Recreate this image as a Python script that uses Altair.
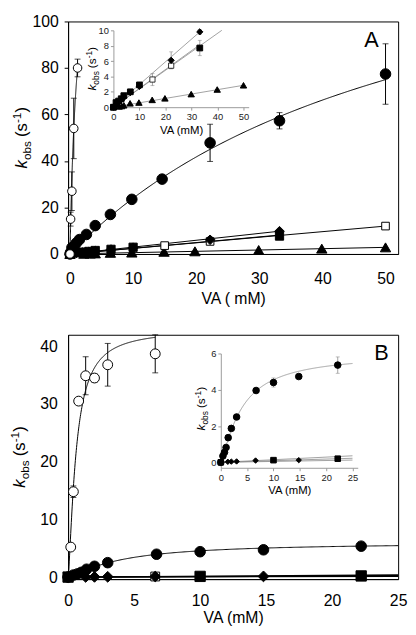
import altair as alt
import numpy as np
import pandas as pd

FONT = "Liberation Sans"

# ---------------- Panel A data (VA in mM, kobs in s^-1) ----------------
A_oc_va = [0, 0.1, 0.3, 0.6, 1.2]
A_oc_k = [0, 15, 27, 54, 80]
A_oc_err = [0, 3, 8.3, 13, 3.8]

A_fc_va = [0, 0.3, 0.6, 1.0, 1.5, 2.6, 4.0, 6.4, 9.8, 14.6, 22.2, 33.2, 50]
A_fc_k = [0, 2.7, 3.2, 4.7, 6.2, 8.4, 12.2, 17.0, 23.5, 32.2, 47.8, 57.3, 77.4]
A_fc_err = [0, 0, 0, 0, 0, 0, 0, 0.5, 0.8, 1.5, 8, 3.5, 13]

A_di_va = [0, 1, 2, 3, 4, 6.5, 10, 22.2, 33.2]
A_di_k = [0, 0.35, 0.65, 0.95, 1.25, 1.9, 2.7, 6.1, 9.8]
A_di_err = [0, 0, 0, 0, 0, 0, 0, 1.1, 0.3]

A_fs_va = [0, 1, 2, 3, 4, 6.5, 10, 33.2]
A_fs_k = [0, 0.6, 0.8, 1.1, 1.5, 2.0, 2.9, 7.7]
A_fs_err = [0, 0, 0, 0, 0, 0, 0.2, 1.0]

A_os_va = [0, 15, 22.2, 50]
A_os_k = [0, 3.6, 5.4, 12.0]
A_os_err = [0, 0.8, 0.4, 0.3]

A_tr_va = [0, 2.2, 3.2, 4.0, 6.4, 9.8, 14.9, 19.8, 29.9, 39.9, 50]
A_tr_k = [0, 0.1, 0.15, 0.25, 0.5, 0.6, 0.95, 1.15, 1.7, 2.3, 2.85]

# fitted curves: hyperbolic/Hill (kmax, K, n, x_end) and linear (slope, x_end)
A_fit_oc = (154, 1.11, 1.0, 1.2)
A_fit_fc = (160, 56.7, 1.0, 50)
A_fit_di = (0.295, 33.2)
A_fit_fs = (0.245, 33.2)
A_fit_os = (0.24, 50)
A_fit_tr = (0.057, 50)

# ---------------- Panel B data ----------------
B_oc_va = [0.2, 0.4, 0.8, 1.33, 2.0, 3.0, 6.6]
B_oc_k = [5.2, 14.8, 30.5, 34.9, 34.5, 36.8, 38.7]
B_oc_err = [0, 1.0, 0, 3.3, 0.7, 3.7, 3.3]

B_fc_va = [0, 0.4, 0.7, 1.0, 1.4, 2.0, 3.0, 6.7, 10, 14.8, 22.2]
B_fc_k = [0, 0.35, 0.55, 0.82, 1.36, 1.87, 2.5, 3.96, 4.4, 4.73, 5.36]
B_fc_err = [0, 0, 0, 0, 0, 0, 0, 0, 0.25, 0, 0.45]

B_di_va = [0, 1.33, 2.0, 3.0, 6.6, 14.8]
B_di_k = [0, 0.03, 0.04, 0.05, 0.1, 0.12]

B_fs_va = [0, 10, 22.2]
B_fs_k = [0, 0.12, 0.2]

B_os_va = [0, 6.6]
B_os_k = [0, 0.1]

B_fit_oc = (43, 0.6, 1.4, 6.6)
B_fit_fc = (6.0, 4.0, 1.25, 25)
B_fit_di = (0.005, 25)
B_fit_fs = (0.009, 25)
B_fit_os = (0.0144, 25)

# ---------------- layout ----------------
W = 335
HA = 236
HB = 248
GRAY = "#8a8a8a"
ONE = pd.DataFrame({"o": [0]})


def pts(x, y, e=None, ymax=None):
    e = e if e is not None else [0] * len(x)
    y = np.array(y, dtype=float)
    e = np.array(e, dtype=float)
    d = pd.DataFrame({"VA": x, "k": y, "lo": y - e, "hi": y + e, "err": e})
    if ymax is not None:
        d = d[d.k <= ymax]
    return d


def hill(p, num=300):
    kmax, K, n, xend = p
    xs = np.linspace(0, xend, num)
    return pd.DataFrame({"VA": xs, "k": kmax * xs ** n / (K ** n + xs ** n)})


def lin(p, ycap=None):
    slope, xend = p
    xe = xend if ycap is None else min(xend, ycap / slope)
    return pd.DataFrame({"VA": [0.0, xe], "k": [0.0, slope * xe]})


def X(xs):
    return alt.X("VA:Q", scale=xs, axis=None)


def Y(ys, f="k"):
    return alt.Y(f"{f}:Q", scale=ys, axis=None)


def curve(df, xs, ys, color="black", w=1.0):
    return alt.Chart(df).mark_line(color=color, strokeWidth=w).encode(x=X(xs), y=Y(ys))


def errbars(df, xs, ys, cap, color="black", w=1.0):
    d = df[df.err > 0]
    b = alt.Chart(d)
    return [
        b.mark_rule(color=color, strokeWidth=w).encode(x=X(xs), y=Y(ys, "lo"), y2="hi:Q"),
        b.mark_tick(orient="horizontal", color=color, thickness=w, size=cap).encode(x=X(xs), y=Y(ys, "lo")),
        b.mark_tick(orient="horizontal", color=color, thickness=w, size=cap).encode(x=X(xs), y=Y(ys, "hi")),
    ]


def points(df, xs, ys, shape, fill, size, sw=1.0):
    return alt.Chart(df).mark_point(shape=shape, filled=True, fill=fill, stroke="black",
                                    strokeWidth=sw, size=size, opacity=1).encode(x=X(xs), y=Y(ys))


def axes_carrier(df, xs, ys, ax, ay):
    return alt.Chart(df).mark_point(opacity=0).encode(
        x=alt.X("VA:Q", scale=xs, axis=ax), y=alt.Y("k:Q", scale=ys, axis=ay))


CW = {"k": 0.5, "o": 0.556, "b": 0.556, "s": 0.5, "(": 0.333, ")": 0.333, "-": 0.333, "1": 0.556}


def tw(s, fs):
    return sum(CW[c] for c in s) * fs


def ytitle(xb, yc, big, small, sub, sup, gap):
    parts = [("k", big, "italic", 0, 0), ("obs", small, "normal", sub, 0),
             ("(s", big, "normal", 0, gap), ("-1", small, "normal", -sup, 0),
             (")", big, "normal", 0, 0)]
    total = sum(tw(t, f) + g for t, f, _, _, g in parts)
    y = yc + total / 2
    out = []
    for t, f, st, dx, g in parts:
        y -= g
        out.append(alt.Chart(ONE).mark_text(text=t, font=FONT, fontSize=f, fontStyle=st, angle=270,
                                            align="left", baseline="alphabetic", color="black")
                   .encode(x=alt.value(xb + dx), y=alt.value(y)))
        y -= tw(t, f)
    return out


def label(txt, x, y):
    return alt.Chart(ONE).mark_text(text=txt, font=FONT, fontSize=22, align="center",
                                    baseline="middle", color="black").encode(x=alt.value(x), y=alt.value(y))


def sc(dom, rng=None):
    if rng is None:
        return alt.Scale(domain=dom, nice=False, zero=False)
    return alt.Scale(domain=dom, range=rng, nice=False, zero=False)


# ---------------- Panel A ----------------
xA, yA = sc([-0.3, 52]), sc([0, 100])
xAi, yAi = sc([0, 52], [46, 183.3]), sc([0, 10], [87, 9])

dA = {
    "oc": pts(A_oc_va, A_oc_k, A_oc_err), "fc": pts(A_fc_va, A_fc_k, A_fc_err),
    "di": pts(A_di_va, A_di_k, A_di_err), "fs": pts(A_fs_va, A_fs_k, A_fs_err),
    "os": pts(A_os_va, A_os_k, A_os_err), "tr": pts(A_tr_va, A_tr_k),
}
dAi = {
    "di": pts(A_di_va, A_di_k, A_di_err, 10), "fs": pts(A_fs_va, A_fs_k, A_fs_err, 10),
    "os": pts(A_os_va, A_os_k, A_os_err, 10), "tr": pts(A_tr_va, A_tr_k, None, 10),
}

axA_x = alt.Axis(values=[0, 10, 20, 30, 40, 50], title="VA ( mM)", ticks=False, labelPadding=17,
                 labelFontSize=16, titleFontSize=16, titlePadding=4, labelFlush=False, labelOverlap=False)
axA_y = alt.Axis(values=[0, 20, 40, 60, 80, 100], title=None, tickSize=4, labelPadding=6,
                 labelFontSize=16, labelOverlap=False)

layersA = [axes_carrier(dA["fc"], xA, yA, axA_x, axA_y)]
layersA += [curve(hill(A_fit_oc), xA, yA), curve(hill(A_fit_fc), xA, yA),
            curve(lin(A_fit_di), xA, yA), curve(lin(A_fit_fs), xA, yA),
            curve(lin(A_fit_os), xA, yA), curve(lin(A_fit_tr), xA, yA)]
for key in ["oc", "fc", "di", "fs", "os"]:
    layersA += errbars(dA[key], xA, yA, 6)
layersA += [
    points(dA["tr"], xA, yA, "triangle-up", "black", 110),
    points(dA["os"], xA, yA, "square", "white", 60),
    points(dA["fs"], xA, yA, "square", "black", 70),
    points(dA["di"], xA, yA, "diamond", "black", 95),
    points(dA["fc"], xA, yA, "circle", "black", 115),
    points(dA["oc"], xA, yA, "circle", "white", 75),
]
layersA += ytitle(-42, HA / 2, 17, 12, 4, 6, 4)
layersA.append(label("A", 308, 19))

axAi_x = alt.Axis(orient="bottom", offset=-(HA - 87), values=[0, 10, 20, 30, 40, 50], title="VA (mM)",
                  tickSize=3, labelPadding=2, labelFontSize=9.5, titleFontSize=11.5, titlePadding=3,
                  domainColor="#9a9a9a", tickColor="#9a9a9a", labelColor="#222", labelFlush=False,
                  labelOverlap=False)
axAi_y = alt.Axis(orient="left", offset=-46, values=[0, 2, 4, 6, 8, 10], title=None, tickSize=3,
                  labelPadding=2, labelFontSize=9.5, domainColor="#9a9a9a", tickColor="#9a9a9a",
                  labelColor="#222", labelOverlap=False)

layersA += [axes_carrier(dAi["di"], xAi, yAi, axAi_x, axAi_y)]
layersA += [curve(lin(A_fit_di, 10), xAi, yAi, GRAY, 0.8), curve(lin(A_fit_fs, 10), xAi, yAi, GRAY, 0.8),
            curve(lin(A_fit_os, 10), xAi, yAi, GRAY, 0.8), curve(lin(A_fit_tr, 10), xAi, yAi, GRAY, 0.8)]
for key in ["di", "fs", "os"]:
    layersA += errbars(dAi[key], xAi, yAi, 4, GRAY, 0.8)
layersA += [
    points(dAi["tr"], xAi, yAi, "triangle-up", "black", 42),
    points(dAi["os"], xAi, yAi, "square", "white", 28, 0.8),
    points(dAi["fs"], xAi, yAi, "square", "black", 34),
    points(dAi["di"], xAi, yAi, "diamond", "black", 40),
]
layersA += ytitle(28, 48, 12, 8.5, 3, 4, 3)

panelA = alt.layer(*layersA).resolve_scale(x="independent", y="independent").properties(width=W, height=HA)

# ---------------- Panel B ----------------
xB, yB = sc([0, 25]), sc([-0.35, 42])
xBi, yBi = sc([0, 26], [155, 294]), sc([-0.3, 6], [135, 19])

dB = {
    "oc": pts(B_oc_va, B_oc_k, B_oc_err), "fc": pts(B_fc_va, B_fc_k, B_fc_err),
    "di": pts(B_di_va, B_di_k), "fs": pts(B_fs_va, B_fs_k), "os": pts(B_os_va, B_os_k),
}

axB_x = alt.Axis(values=[0, 5, 10, 15, 20, 25], title="VA (mM)", ticks=False, labelPadding=14,
                 labelFontSize=16, titleFontSize=16, titlePadding=1, labelFlush=False, labelOverlap=False)
axB_y = alt.Axis(values=[0, 10, 20, 30, 40], title=None, ticks=False, labelPadding=11,
                 labelFontSize=16, labelOverlap=False)

layersB = [axes_carrier(dB["fc"], xB, yB, axB_x, axB_y)]
layersB += [curve(lin(B_fit_os), xB, yB, w=1.4), curve(lin(B_fit_fs), xB, yB, w=1.4),
            curve(lin(B_fit_di), xB, yB, w=1.4),
            curve(hill(B_fit_fc), xB, yB), curve(hill(B_fit_oc), xB, yB)]
for key in ["oc", "fc"]:
    layersB += errbars(dB[key], xB, yB, 6)
layersB += [
    points(dB["os"], xB, yB, "square", "white", 80),
    points(dB["fs"], xB, yB, "square", "black", 110),
    points(dB["di"], xB, yB, "diamond", "black", 120),
    points(dB["fc"], xB, yB, "circle", "black", 115),
    points(dB["oc"], xB, yB, "circle", "white", 100),
]
layersB += ytitle(-44, HB / 2, 17, 12, 4, 6, 4)
layersB.append(label("B", 318, 19))

axBi_x = alt.Axis(orient="bottom", offset=-(HB - 135), values=[0, 5, 10, 15, 20, 25], title="VA (mM)",
                  tickSize=3, labelPadding=2, labelFontSize=9.5, titleFontSize=11.5, titlePadding=3,
                  domainColor="#9a9a9a", tickColor="#9a9a9a", labelColor="#222", labelFlush=False,
                  labelOverlap=False)
axBi_y = alt.Axis(orient="left", offset=-155, values=[0, 2, 4, 6], title=None, tickSize=3,
                  labelPadding=2, labelFontSize=9.5, domainColor="#9a9a9a", tickColor="#9a9a9a",
                  labelColor="#222", labelOverlap=False)

layersB += [axes_carrier(dB["fc"], xBi, yBi, axBi_x, axBi_y)]
layersB += [curve(lin(B_fit_os), xBi, yBi, GRAY, 0.8), curve(lin(B_fit_fs), xBi, yBi, GRAY, 0.8),
            curve(lin(B_fit_di), xBi, yBi, GRAY, 0.8), curve(hill(B_fit_fc), xBi, yBi, GRAY, 0.8)]
layersB += errbars(dB["fc"], xBi, yBi, 4, GRAY, 0.8)
layersB += [
    points(dB["fs"], xBi, yBi, "square", "black", 32),
    points(dB["di"], xBi, yBi, "diamond", "black", 30),
    points(dB["fc"], xBi, yBi, "circle", "black", 45),
]
layersB += ytitle(139, 75, 12, 8.5, 3, 4, 3)

panelB = alt.layer(*layersB).resolve_scale(x="independent", y="independent").properties(width=W, height=HB)

chart = alt.vconcat(panelA, panelB, spacing=27).properties(
    padding={"left": 0, "top": 0, "right": 0, "bottom": 0}
).configure_view(stroke="black", strokeWidth=1).configure_axis(
    grid=False, labelFont=FONT, titleFont=FONT, domainColor="black", tickColor="black",
    labelColor="black", titleColor="black", titleFontWeight="normal", domainWidth=1
)

chart.save("out.html", embed_options={"renderer": "svg", "actions": False})
